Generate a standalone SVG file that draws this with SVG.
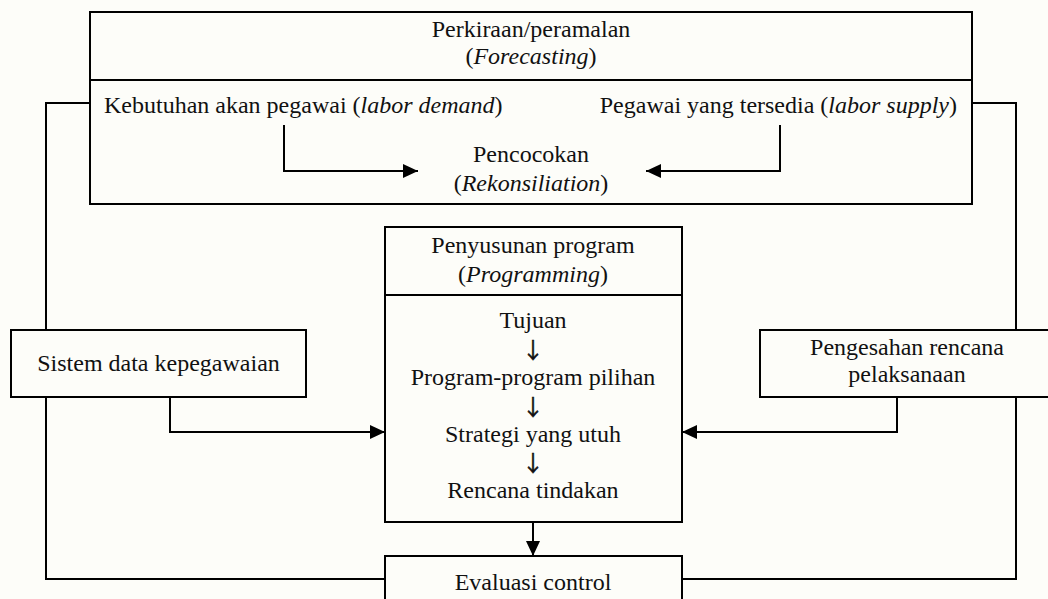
<svg xmlns="http://www.w3.org/2000/svg" width="1048" height="599" viewBox="0 0 1048 599">
<style>
.box{fill:#fdfdf9;stroke:#000;stroke-width:2}
.ln{fill:none;stroke:#000;stroke-width:2}
.t{font-family:"Liberation Serif","Times New Roman","DejaVu Serif",serif;font-size:24px;fill:#111;text-anchor:middle}
.arr{font-family:"Noto Sans CJK JP","Noto Sans CJK SC","DejaVu Sans",sans-serif;font-size:22px;fill:#111;stroke:#111;stroke-width:0.5;text-anchor:middle}
.l{text-anchor:start}
.r{text-anchor:end}
.i{font-style:italic}
</style>
<defs>
<marker id="ah" markerUnits="userSpaceOnUse" markerWidth="16" markerHeight="16" viewBox="0 0 16 16" refX="15" refY="8" orient="auto">
<path d="M0,1 L15,8 L0,15 Z" fill="#000"/>
</marker>
</defs>
<rect x="0" y="0" width="1048" height="599" fill="#fdfdf9"/>

<g id="connectors">
<path class="ln" d="M90,103 H46 V579 H385"/>
<path class="ln" d="M972,103 H1016 V579 H682"/>
<path class="ln" d="M170,397 V432 H385" marker-end="url(#ah)"/>
<path class="ln" d="M897,397 V432 H682" marker-end="url(#ah)"/>
<path class="ln" d="M533,522 V556" marker-end="url(#ah)"/>
</g>

<g id="forecasting">
<rect class="box" x="90" y="12" width="882" height="192"/>
<line class="ln" x1="90" y1="80" x2="972" y2="80"/>
<text class="t" x="531" y="37">Perkiraan/peramalan</text>
<text class="t" x="531" y="64">(<tspan class="i">Forecasting</tspan>)</text>
<text class="t l" x="104" y="113">Kebutuhan akan pegawai (<tspan class="i">labor demand</tspan>)</text>
<text class="t r" x="957" y="113">Pegawai yang tersedia (<tspan class="i">labor supply</tspan>)</text>
<text class="t" x="531" y="162">Pencocokan</text>
<text class="t" x="531" y="191">(<tspan class="i">Rekonsiliation</tspan>)</text>
</g>

<g id="connectors-inner">
<path class="ln" d="M284,125 V171 H418" marker-end="url(#ah)"/>
<path class="ln" d="M780,125 V171 H646" marker-end="url(#ah)"/>
</g>

<g id="sistem-data">
<rect class="box" x="11" y="330" width="295" height="67"/>
<text class="t" x="158.5" y="371">Sistem data kepegawaian</text>
</g>

<g id="pengesahan">
<rect class="box" x="760" y="330" width="290" height="67"/>
<text class="t" x="907" y="355">Pengesahan rencana</text>
<text class="t" x="907" y="382">pelaksanaan</text>
</g>

<g id="programming">
<rect class="box" x="385" y="227" width="297" height="295"/>
<line class="ln" x1="385" y1="295" x2="682" y2="295"/>
<text class="t" x="533" y="253">Penyusunan program</text>
<text class="t" x="533" y="282">(<tspan class="i">Programming</tspan>)</text>
<text class="t" x="533" y="328">Tujuan</text>
<text class="arr" x="533" y="358">↓</text>
<text class="t" x="533" y="385">Program-program pilihan</text>
<text class="arr" x="533" y="415">↓</text>
<text class="t" x="533" y="442">Strategi yang utuh</text>
<text class="arr" x="533" y="471">↓</text>
<text class="t" x="533" y="498">Rencana tindakan</text>
</g>

<g id="evaluasi">
<rect class="box" x="385" y="556" width="297" height="60"/>
<text class="t" x="533" y="590">Evaluasi control</text>
</g>
</svg>
